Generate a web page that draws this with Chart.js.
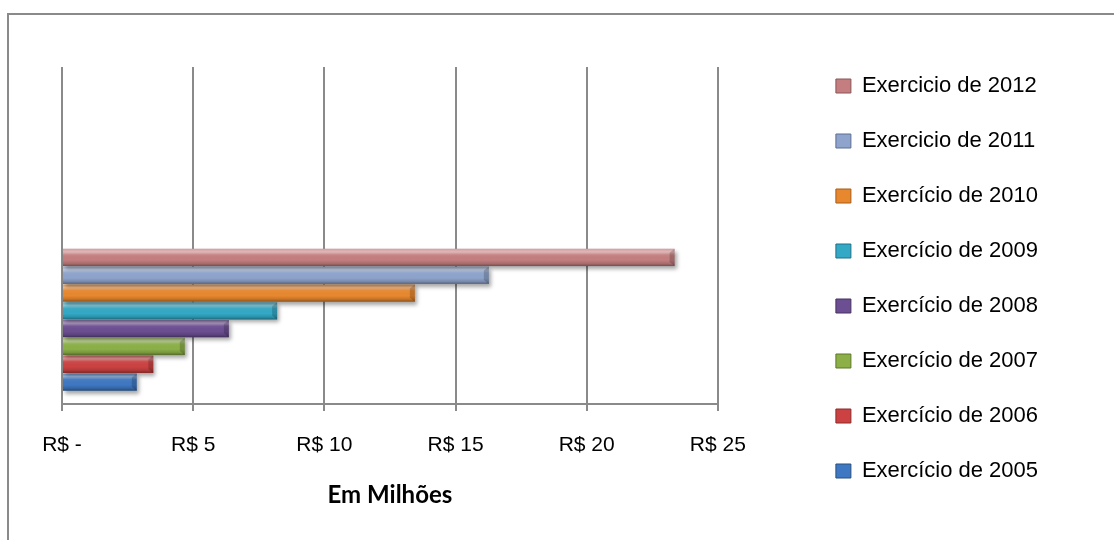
<!DOCTYPE html>
<html>
<head>
<meta charset="utf-8">
<script src="https://cdn.jsdelivr.net/npm/chart.js@4.4.1/dist/chart.umd.min.js"></script>
<style>
  html, body { margin: 0; padding: 0; background: #fff; }
  #wrap { position: relative; width: 1114px; height: 540px; overflow: hidden; }
  #moldura { position: absolute; left: 7px; top: 13px; width: 1200px; height: 600px;
             border-left: 2px solid #8a8a8a; border-top: 2px solid #8a8a8a; }
  canvas { position: absolute; left: 0; top: 0; }
</style>
</head>
<body>
<div id="wrap">
  <div id="moldura"></div>
  <canvas id="grafico" width="1114" height="540"></canvas>
</div>
<script>
// dados (em milhões de R$)
const exercicios = ['Exercicio de 2012', 'Exercicio de 2011', 'Exercício de 2010', 'Exercício de 2009',
                    'Exercício de 2008', 'Exercício de 2007', 'Exercício de 2006', 'Exercício de 2005'];
const valores = [23.35, 16.27, 13.45, 8.2, 6.36, 4.68, 3.48, 2.85];
const categorias = ['', 'Total'];
const ticksX = [0, 5, 10, 15, 20, 25];
const cores = ['#c47e7f', '#8ea4cc', '#e8882e', '#33a9c6', '#6c4e92', '#8cb047', '#cc4242', '#3f78c2'];
const coresEscuras = ['#8a5556', '#5d6f91', '#a65c18', '#1f7187', '#47325f', '#5c7729', '#8c2a2a', '#27507f'];

const fonteTexto = "'Liberation Sans', Arial, sans-serif";

const datasets = exercicios.map((nome, i) => ({
  label: nome,
  data: [null, valores[i]],
  backgroundColor: cores[i],
  borderWidth: 0,
  categoryPercentage: 0.845,
  barPercentage: 0.97
}));

// sombra e efeito de relevo nas barras
const relevo = {
  id: 'relevo',
  beforeDatasetDraw(chart) {
    const ctx = chart.ctx;
    ctx.save();
    ctx.shadowColor = 'rgba(0,0,0,0.35)';
    ctx.shadowBlur = 4;
    ctx.shadowOffsetX = 2;
    ctx.shadowOffsetY = 3;
  },
  afterDatasetDraw(chart, args) {
    const ctx = chart.ctx;
    ctx.restore();
    const meta = chart.getDatasetMeta(args.index);
    meta.data.forEach(bar => {
      const p = bar.getProps(['x', 'y', 'base', 'height'], true);
      if (!isFinite(p.x) || !isFinite(p.base) || p.x === p.base) return;
      const topo = p.y - p.height / 2;
      const esq = Math.min(p.x, p.base);
      const larg = Math.abs(p.x - p.base);
      const g = ctx.createLinearGradient(0, topo, 0, topo + p.height);
      g.addColorStop(0, 'rgba(255,255,255,0.25)');
      g.addColorStop(0.18, 'rgba(255,255,255,0.45)');
      g.addColorStop(0.35, 'rgba(255,255,255,0.06)');
      g.addColorStop(0.65, 'rgba(0,0,0,0)');
      g.addColorStop(0.85, 'rgba(0,0,0,0.14)');
      g.addColorStop(1, 'rgba(0,0,0,0.4)');
      ctx.save();
      ctx.fillStyle = g;
      ctx.fillRect(esq, topo, larg, p.height);
      // chanfro na ponta direita
      ctx.fillStyle = 'rgba(0,0,0,0.18)';
      ctx.beginPath();
      ctx.moveTo(esq + larg, topo);
      ctx.lineTo(esq + larg - 5, topo + 4);
      ctx.lineTo(esq + larg - 5, topo + p.height - 4);
      ctx.lineTo(esq + larg, topo + p.height);
      ctx.closePath();
      ctx.fill();
      ctx.restore();
    });
  }
};

new Chart(document.getElementById('grafico'), {
  type: 'bar',
  data: { labels: categorias, datasets: datasets },
  plugins: [relevo],
  options: {
    indexAxis: 'y',
    responsive: false,
    animation: false,
    layout: { padding: { top: 41, bottom: 24, left: 62, right: 66 } },
    plugins: {
      title: {
        display: true,
        text: ' ',
        fullSize: false,
        font: { size: 10 },
        padding: { top: 14, bottom: 0 }
      },
      tooltip: { enabled: false },
      legend: {
        position: 'right',
        align: 'center',
        maxWidth: 400,
        labels: {
          boxWidth: 15,
          boxHeight: 14,
          padding: 33,
          color: '#000',
          font: { family: fonteTexto, size: 22 },
          generateLabels: chart => Chart.defaults.plugins.legend.labels.generateLabels(chart)
            .map(item => Object.assign(item, { lineWidth: 1, strokeStyle: coresEscuras[item.datasetIndex] }))
        }
      }
    },
    scales: {
      x: {
        type: 'linear',
        position: 'bottom',
        min: ticksX[0],
        max: ticksX[ticksX.length - 1],
        grid: { color: '#8a8a8a', lineWidth: 2, tickLength: 7 },
        border: { color: '#8a8a8a', width: 2 },
        ticks: {
          stepSize: ticksX[1] - ticksX[0],
          padding: 22,
          color: '#000',
          font: { family: fonteTexto, size: 21 },
          callback: v => v === 0 ? 'R$ -' : 'R$ ' + v
        },
        title: {
          display: true,
          text: 'Em Milhões',
          color: '#000',
          padding: { top: 1, bottom: 6 },
          font: { family: 'Lato, Carlito, sans-serif', size: 24, weight: 'bold' }
        }
      },
      y: {
        type: 'category',
        display: false
      },
      folga: {
        type: 'linear',
        position: 'right',
        grid: { display: false },
        border: { display: false },
        ticks: { display: false },
        afterFit: s => { s.width = 85; }
      }
    }
  }
});
</script>
</body>
</html>
